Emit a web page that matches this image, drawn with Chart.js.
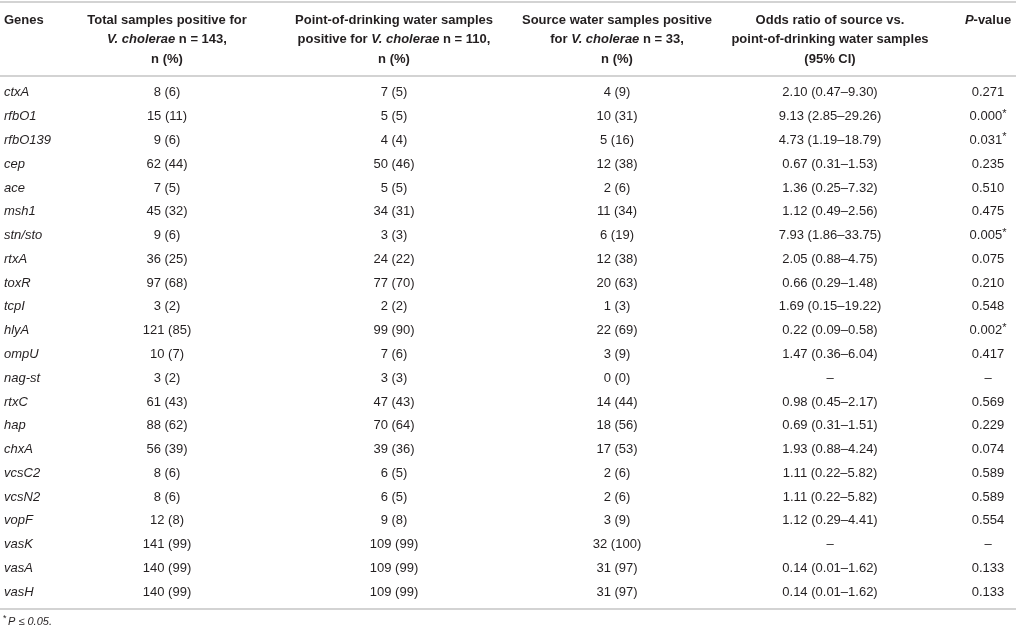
<!DOCTYPE html>
<html>
<head>
<meta charset="utf-8">
<script src="https://cdn.jsdelivr.net/npm/chart.js@4.4.1/dist/chart.umd.min.js"></script>
<style>
  html, body { margin: 0; padding: 0; background: #fff; }
  #wrap { width: 1016px; height: 632px; }
</style>
</head>
<body>
<div id="wrap"><canvas id="tbl"></canvas></div>
<script>
// table values, one list per column
var genes = ['ctxA', 'rfbO1', 'rfbO139', 'cep', 'ace', 'msh1', 'stn/sto', 'rtxA', 'toxR', 'tcpI',
  'hlyA', 'ompU', 'nag-st', 'rtxC', 'hap', 'chxA', 'vcsC2', 'vcsN2', 'vopF', 'vasK', 'vasA', 'vasH'];
var totalPos = ['8 (6)', '15 (11)', '9 (6)', '62 (44)', '7 (5)', '45 (32)', '9 (6)', '36 (25)', '97 (68)', '3 (2)',
  '121 (85)', '10 (7)', '3 (2)', '61 (43)', '88 (62)', '56 (39)', '8 (6)', '8 (6)', '12 (8)', '141 (99)', '140 (99)', '140 (99)'];
var pointPos = ['7 (5)', '5 (5)', '4 (4)', '50 (46)', '5 (5)', '34 (31)', '3 (3)', '24 (22)', '77 (70)', '2 (2)',
  '99 (90)', '7 (6)', '3 (3)', '47 (43)', '70 (64)', '39 (36)', '6 (5)', '6 (5)', '9 (8)', '109 (99)', '109 (99)', '109 (99)'];
var sourcePos = ['4 (9)', '10 (31)', '5 (16)', '12 (38)', '2 (6)', '11 (34)', '6 (19)', '12 (38)', '20 (63)', '1 (3)',
  '22 (69)', '3 (9)', '0 (0)', '14 (44)', '18 (56)', '17 (53)', '2 (6)', '2 (6)', '3 (9)', '32 (100)', '31 (97)', '31 (97)'];
var oddsRatio = ['2.10 (0.47–9.30)', '9.13 (2.85–29.26)', '4.73 (1.19–18.79)', '0.67 (0.31–1.53)', '1.36 (0.25–7.32)',
  '1.12 (0.49–2.56)', '7.93 (1.86–33.75)', '2.05 (0.88–4.75)', '0.66 (0.29–1.48)', '1.69 (0.15–19.22)',
  '0.22 (0.09–0.58)', '1.47 (0.36–6.04)', '–', '0.98 (0.45–2.17)', '0.69 (0.31–1.51)', '1.93 (0.88–4.24)',
  '1.11 (0.22–5.82)', '1.11 (0.22–5.82)', '1.12 (0.29–4.41)', '–', '0.14 (0.01–1.62)', '0.14 (0.01–1.62)'];
var pValues = ['0.271', '0.000*', '0.031*', '0.235', '0.510', '0.475', '0.005*', '0.075', '0.210', '0.548',
  '0.002*', '0.417', '–', '0.569', '0.229', '0.074', '0.589', '0.589', '0.554', '–', '0.133', '0.133'];

// header lines, _text_ is italic
var headGenes = ['Genes'];
var headers = [
  ['Total samples positive for', '_V. cholerae_ n = 143,', 'n (%)'],
  ['Point-of-drinking water samples', 'positive for _V. cholerae_ n = 110,', 'n (%)'],
  ['Source water samples positive', 'for _V. cholerae_ n = 33,', 'n (%)'],
  ['Odds ratio of source vs.', 'point-of-drinking water samples', '(95% CI)'],
  ['_P_-value']
];
var footnote = '_P ≤ 0.05._';

var columns = [totalPos, pointPos, sourcePos, oddsRatio, pValues];
var colX = [167, 394, 617, 830, 988];

var FAMILY = '"Liberation Sans", Arial, Helvetica, sans-serif';
var TEXT = '#231f20';
var RULE = '#c4c4c4';

function fontStr(size, bold, italic) {
  return (italic ? 'italic ' : '') + (bold ? 'bold ' : '') + size + 'px ' + FAMILY;
}

// split "_a_ b" into segments with italic flag
function segments(line) {
  var parts = line.split('_');
  var out = [];
  for (var i = 0; i < parts.length; i++) {
    if (parts[i] !== '') out.push({ text: parts[i], italic: i % 2 === 1 });
  }
  return out;
}

function drawRich(ctx, line, x, y, size, bold, align) {
  var segs = segments(line);
  var total = 0;
  segs.forEach(function(s) {
    ctx.font = fontStr(size, bold, s.italic);
    s.w = ctx.measureText(s.text).width;
    total += s.w;
  });
  var cx = align === 'left' ? x : x - total / 2;
  ctx.textAlign = 'left';
  segs.forEach(function(s) {
    ctx.font = fontStr(size, bold, s.italic);
    ctx.fillText(s.text, cx, y);
    cx += s.w;
  });
}

function drawCell(ctx, text, x, y) {
  var star = text.charAt(text.length - 1) === '*';
  var main = star ? text.slice(0, -1) : text;
  ctx.font = fontStr(13, false, false);
  var w = ctx.measureText(main).width;
  var sw = 0;
  if (star) {
    ctx.font = fontStr(11, false, false);
    sw = ctx.measureText('*').width;
  }
  var left = x - (w + sw) / 2;
  ctx.textAlign = 'left';
  ctx.font = fontStr(13, false, false);
  ctx.fillText(main, left, y);
  if (star) {
    ctx.font = fontStr(11, false, false);
    ctx.fillText('*', left + w, y - 3);
  }
}

function rule(ctx, y, w) {
  ctx.beginPath();
  ctx.moveTo(0, y);
  ctx.lineTo(w, y);
  ctx.stroke();
}

var tablePlugin = {
  id: 'tableCells',
  afterDatasetsDraw: function(chart) {
    var ctx = chart.ctx;
    var area = chart.chartArea;
    ctx.save();
    ctx.fillStyle = TEXT;
    ctx.textBaseline = 'middle';

    // body cells at the points placed by the scales
    chart.data.datasets.forEach(function(ds, d) {
      chart.getDatasetMeta(d).data.forEach(function(pt, i) {
        drawCell(ctx, ds.cells[i], pt.x, pt.y);
      });
    });

    // header
    var lineY = [20, 39.5, 59];
    drawRich(ctx, headGenes[0], 4, lineY[0], 13, true, 'left');
    headers.forEach(function(lines, c) {
      var x = chart.scales.x.getPixelForValue(colX[c]);
      lines.forEach(function(l, k) {
        drawRich(ctx, l, x, lineY[k], 13, true, 'center');
      });
    });

    // rules
    ctx.strokeStyle = RULE;
    ctx.lineWidth = 1.5;
    rule(ctx, 2, chart.width);
    rule(ctx, area.top - 5, chart.width);
    rule(ctx, area.bottom + 5, chart.width);

    // footnote
    ctx.font = fontStr(9, false, false);
    ctx.fillText('*', 3, 619);
    drawRich(ctx, footnote, 8, 622, 11, false, 'left');
    ctx.restore();
  }
};

var ctx = document.getElementById('tbl').getContext('2d');
var table = new Chart(ctx, {
  type: 'scatter',
  data: {
    labels: genes,
    datasets: columns.map(function(col, c) {
      return {
        cells: col,
        data: genes.map(function(g) { return { x: colX[c], y: g }; }),
        pointRadius: 0,
        pointHoverRadius: 0
      };
    })
  },
  options: {
    responsive: true,
    maintainAspectRatio: false,
    animation: false,
    events: [],
    layout: { padding: { top: 81, bottom: 28, left: 0, right: 0 } },
    plugins: { legend: { display: false }, tooltip: { enabled: false } },
    scales: {
      x: { type: 'linear', min: 0, max: 1016, display: false },
      y: {
        type: 'category',
        offset: true,
        grid: { display: false },
        border: { display: false },
        afterFit: function(scale) { scale.width = 0; },
        ticks: {
          mirror: true,
          padding: 4,
          color: TEXT,
          font: { family: FAMILY, size: 13, style: 'italic' }
        }
      }
    }
  },
  plugins: [tablePlugin]
});
</script>
</body>
</html>
